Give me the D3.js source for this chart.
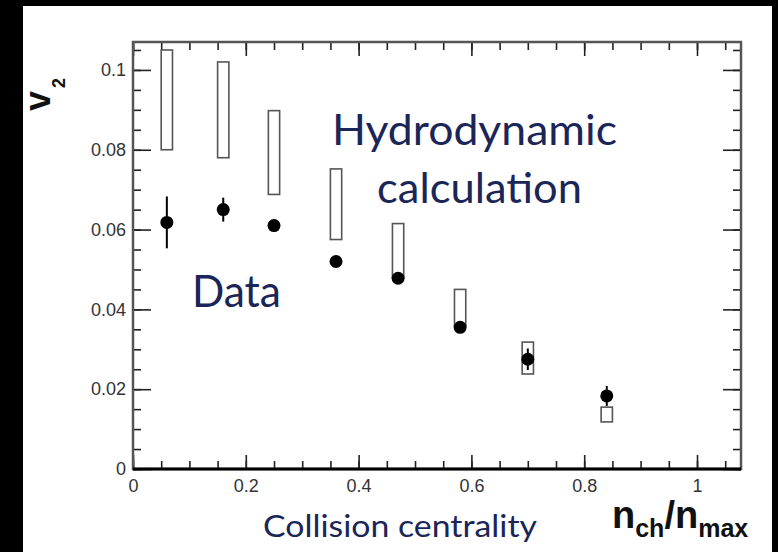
<!DOCTYPE html>
<html>
<head>
<meta charset="utf-8">
<script src="https://cdn.jsdelivr.net/npm/d3@7"></script>
<style>
  html, body { margin: 0; padding: 0; background: #000; }
  svg { display: block; }
</style>
</head>
<body>
<svg id="chart" width="778" height="552"></svg>
<script>
// values
const centrality = [0.06, 0.16, 0.25, 0.36, 0.47, 0.58, 0.70, 0.84]
const v2Data     = [0.0618, 0.065, 0.061, 0.052, 0.0478, 0.0355, 0.0275, 0.0183]
const v2Err      = [0.0065, 0.003, 0.0015, 0.0012, 0.0012, 0.0012, 0.0027, 0.0025]
const hydroLow   = [0.080, 0.078, 0.0688, 0.0575, 0.048, 0.036, 0.0238, 0.0118]
const hydroHigh  = [0.105, 0.102, 0.0898, 0.0752, 0.0615, 0.045, 0.0318, 0.0155]
const boxHalfWidth = 0.01
const xTickLabels = [0, 0.2, 0.4, 0.6, 0.8, 1]
const yTickLabels = [0, 0.02, 0.04, 0.06, 0.08, 0.1]

let svg = d3.select("#chart")

// white panel inside black border
svg.append("rect")
	.attr("x", 23).attr("y", 6)
	.attr("width", 749).attr("height", 546)
	.attr("fill", "#fff")

let margin = {left: 133, top: 42, right: 741, bottom: 469}

let x = d3.scaleLinear().domain([0, 1.078]).range([margin.left, margin.right])
let y = d3.scaleLinear().domain([0, 0.107]).range([margin.bottom, margin.top])

let xMinor = d3.range(0, 1.07, 0.05)
let yMinor = d3.range(0, 0.1065, 0.005)

let fmt = d => d === 0 ? "0" : d3.format("~g")(d)

function styleAxis(sel){
	sel.select(".domain").remove()
	sel.selectAll("line").attr("stroke", "#222").attr("stroke-width", 1.6)
	sel.selectAll("text")
		.attr("font-family", "Liberation Sans, Arial, sans-serif")
		.attr("font-size", 18)
		.attr("fill", "#333")
}

// bottom axis
svg.append("g").attr("transform", `translate(0,${margin.bottom})`)
	.call(d3.axisBottom(x).tickValues(xMinor).tickSize(-8).tickFormat(""))
	.call(styleAxis)
svg.append("g").attr("transform", `translate(0,${margin.bottom})`)
	.call(d3.axisBottom(x).tickValues(xTickLabels).tickSize(-14).tickPadding(10).tickFormat(fmt))
	.call(styleAxis)

// top axis
svg.append("g").attr("transform", `translate(0,${margin.top})`)
	.call(d3.axisTop(x).tickValues(xMinor).tickSize(-8).tickFormat(""))
	.call(styleAxis)
svg.append("g").attr("transform", `translate(0,${margin.top})`)
	.call(d3.axisTop(x).tickValues(xTickLabels).tickSize(-14).tickFormat(""))
	.call(styleAxis)

// left axis
svg.append("g").attr("transform", `translate(${margin.left},0)`)
	.call(d3.axisLeft(y).tickValues(yMinor).tickSize(-8).tickFormat(""))
	.call(styleAxis)
svg.append("g").attr("transform", `translate(${margin.left},0)`)
	.call(d3.axisLeft(y).tickValues(yTickLabels).tickSize(-18).tickPadding(7).tickFormat(fmt))
	.call(styleAxis)

// right axis
svg.append("g").attr("transform", `translate(${margin.right},0)`)
	.call(d3.axisRight(y).tickValues(yMinor).tickSize(-8).tickFormat(""))
	.call(styleAxis)
svg.append("g").attr("transform", `translate(${margin.right},0)`)
	.call(d3.axisRight(y).tickValues(yTickLabels).tickSize(-18).tickFormat(""))
	.call(styleAxis)

// frame
svg.append("rect")
	.attr("x", margin.left).attr("y", margin.top)
	.attr("width", margin.right - margin.left)
	.attr("height", margin.bottom - margin.top)
	.attr("fill", "none")
	.attr("stroke", "#555")
	.attr("stroke-width", 2.5)
svg.append("line")
	.attr("x1", margin.left).attr("x2", margin.right)
	.attr("y1", margin.bottom).attr("y2", margin.bottom)
	.attr("stroke", "#000").attr("stroke-width", 3)

// hydro boxes
svg.append("g").selectAll("rect")
	.data(centrality)
	.join("rect")
	.attr("x", d => x(d - boxHalfWidth))
	.attr("width", d => x(d + boxHalfWidth) - x(d - boxHalfWidth))
	.attr("y", (d, i) => y(hydroHigh[i]))
	.attr("height", (d, i) => y(hydroLow[i]) - y(hydroHigh[i]))
	.attr("fill", "none")
	.attr("stroke", "#555")
	.attr("stroke-width", 1.6)

// error bars
svg.append("g").selectAll("line")
	.data(centrality)
	.join("line")
	.attr("x1", d => x(d)).attr("x2", d => x(d))
	.attr("y1", (d, i) => y(v2Data[i] - v2Err[i]))
	.attr("y2", (d, i) => y(v2Data[i] + v2Err[i]))
	.attr("stroke", "#000")
	.attr("stroke-width", 2)

// data points
svg.append("g").selectAll("circle")
	.data(centrality)
	.join("circle")
	.attr("cx", d => x(d))
	.attr("cy", (d, i) => y(v2Data[i]))
	.attr("r", 6.5)
	.attr("fill", "#000")

// annotations
let navy = "#1b2658"
let serifish = "Lato, 'Open Sans', sans-serif"
svg.append("text").text("Hydrodynamic")
	.attr("x", 332).attr("y", 145)
	.attr("font-family", serifish).attr("font-size", 42).attr("fill", navy)
	.attr("textLength", 285).attr("lengthAdjust", "spacingAndGlyphs")
svg.append("text").text("calculation")
	.attr("x", 377).attr("y", 203)
	.attr("font-family", serifish).attr("font-size", 42).attr("fill", navy)
	.attr("textLength", 205).attr("lengthAdjust", "spacingAndGlyphs")
svg.append("text").text("Data")
	.attr("x", 192).attr("y", 307)
	.attr("font-family", serifish).attr("font-size", 44).attr("fill", navy)
	.attr("textLength", 89).attr("lengthAdjust", "spacingAndGlyphs")
svg.append("text").text("Collision centrality")
	.attr("x", 263).attr("y", 537)
	.attr("font-family", serifish).attr("font-size", 30).attr("fill", navy)
	.attr("textLength", 274).attr("lengthAdjust", "spacingAndGlyphs")

// axis titles
let xTitle = svg.append("text")
	.attr("x", 612).attr("y", 528)
	.attr("font-family", "Liberation Sans, Arial, sans-serif")
	.attr("font-weight", "bold").attr("fill", "#111")
xTitle.append("tspan").attr("font-size", 38).text("n")
xTitle.append("tspan").attr("font-size", 25).attr("dy", 9).text("ch")
xTitle.append("tspan").attr("font-size", 38).attr("dy", -9).text("/n")
xTitle.append("tspan").attr("font-size", 25).attr("dy", 9).text("max")

let yTitle = svg.append("text")
	.attr("transform", "translate(50,111) rotate(-90)")
	.attr("font-family", "Liberation Sans, Arial, sans-serif")
	.attr("font-weight", "bold").attr("fill", "#111")
yTitle.append("tspan").attr("font-size", 36).text("v")
yTitle.append("tspan").attr("font-size", 18).attr("dy", 15).attr("dx", 3).text("2")
</script>
</body>
</html>
